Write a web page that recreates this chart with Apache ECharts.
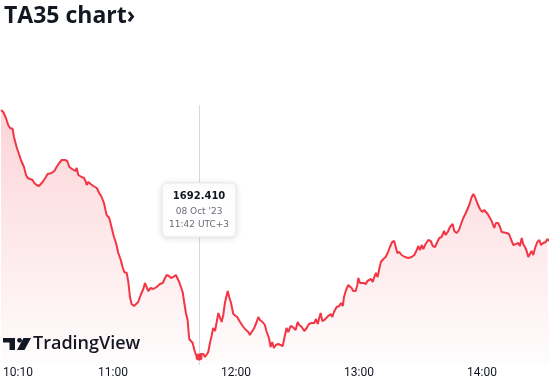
<!DOCTYPE html>
<html>
<head>
<meta charset="utf-8">
<script src="https://cdn.jsdelivr.net/npm/echarts@6/dist/echarts.min.js"></script>
<style>
html,body{margin:0;padding:0;background:#fff;}
#main{width:549px;height:382px;}
</style>
</head>
<body>
<div id="main"></div>
<script>
// ---- data (time in minutes since midnight, price) ----
const times = [
605.4,606.5,607.8,608.9,609.8,610.6,611.1,611.7,613.0,614.3,615.1,616.0,616.6,617.6,618.4,619.5,620.3,620.8,621.6,622.8,
623.9,624.7,625.7,626.5,627.3,628.1,628.9,630.1,631.4,632.5,633.8,635.0,636.6,637.7,638.7,639.4,640.1,641.0,641.6,642.3,
643.1,644.7,645.9,646.8,647.2,648.0,649.1,650.4,652.1,653.3,654.5,655.6,656.9,658.2,659.4,660.5,661.5,662.6,663.8,664.7,
665.5,666.7,667.5,668.3,669.1,670.3,671.2,672.3,673.5,674.8,675.6,676.4,677.2,678.4,679.7,681.3,682.9,684.3,685.4,686.2,
687.3,688.3,689.4,690.7,691.6,692.3,693.2,694.0,694.8,695.6,696.4,697.2,698.0,698.9,699.7,700.5,702.0,702.8,703.3,704.1,
704.9,705.7,706.5,707.3,708.1,708.9,709.8,710.6,711.4,712.2,713.0,713.8,714.6,715.5,716.0,716.7,717.6,718.7,719.5,720.6,
722.0,723.3,724.4,725.2,726.0,726.8,727.7,728.9,730.1,730.9,731.7,733.0,734.1,735.0,736.1,736.9,737.7,738.5,739.5,740.6,
741.5,742.8,743.6,744.7,745.5,746.7,747.7,748.3,749.1,750.1,750.9,752.1,753.3,754.5,755.6,756.9,758.2,759.0,759.9,760.6,
761.3,762.1,763.1,763.9,765.0,766.2,767.0,767.8,769.1,770.4,771.2,772.1,772.7,773.7,774.8,775.6,776.4,777.2,778.4,779.2,
779.7,780.5,781.3,782.4,783.4,784.1,784.9,785.9,786.7,787.5,788.3,789.1,789.9,790.7,791.9,793.0,794.0,795.1,796.2,797.2,
797.9,798.7,799.7,800.8,802.4,804.1,805.7,807.0,808.2,808.9,809.8,810.6,811.4,812.5,813.8,815.0,816.0,817.1,818.2,819.2,
820.3,821.5,822.3,823.3,824.4,825.7,826.5,827.7,828.8,829.8,830.9,832.1,833.0,833.8,835.0,835.8,836.6,837.7,839.0,840.1,
841.1,842.0,842.8,843.6,844.7,846.0,846.8,847.9,848.8,849.6,850.4,852.0,853.2,854.1,855.3,856.6,857.7,858.5,859.4,860.1,
861.0,861.8,862.6,863.4,864.2,865.0,865.9,867.0,868.0,868.8,869.9,871.1,871.9,872.7
];
const prices = [
1741.81,1741.41,1740.21,1738.81,1738.21,1738.41,1738.01,1736.41,1734.41,1732.81,1731.81,1731.41,1730.41,1728.81,1728.21,1728.01,1727.61,1727.81,1727.21,1726.81,
1726.61,1727.01,1727.41,1727.81,1728.41,1729.01,1728.81,1729.21,1729.61,1730.41,1731.21,1731.81,1731.81,1731.61,1730.41,1730.81,1730.01,1730.41,1729.61,1730.21,
1728.81,1728.41,1728.21,1727.41,1726.81,1727.41,1727.01,1726.61,1726.21,1725.21,1724.41,1723.21,1720.81,1720.21,1718.21,1716.41,1715.21,1713.21,1711.81,1710.41,
1709.41,1709.21,1707.41,1704.41,1703.01,1702.61,1702.41,1703.41,1704.81,1706.01,1707.21,1707.21,1705.61,1706.21,1706.01,1706.41,1707.01,1707.21,1708.21,1708.81,
1708.61,1708.21,1708.41,1708.81,1709.21,1707.41,1707.21,1705.41,1703.21,1701.21,1699.81,1696.01,1696.21,1695.21,1693.81,1692.81,1692.41,1693.01,1693.41,1693.01,
1692.41,1692.21,1693.41,1695.21,1696.61,1698.21,1697.61,1699.41,1701.21,1701.41,1699.41,1700.81,1703.21,1704.81,1705.61,1704.41,1703.21,1701.01,1700.81,1700.41,
1699.41,1698.61,1698.01,1698.41,1697.41,1696.81,1697.21,1698.21,1699.41,1700.41,1699.81,1699.41,1698.81,1697.41,1696.21,1694.41,1695.41,1694.21,1694.81,1695.01,
1695.01,1694.61,1696.21,1698.21,1697.41,1698.61,1698.41,1698.81,1697.81,1699.41,1698.81,1698.41,1697.61,1698.21,1699.01,1699.21,1699.21,1700.01,1699.01,1700.21,
1701.21,1699.61,1699.81,1699.81,1700.61,1701.01,1700.41,1701.41,1702.41,1702.61,1703.21,1702.61,1704.41,1705.81,1706.81,1707.21,1706.21,1705.61,1705.61,1706.81,
1708.21,1707.21,1707.01,1707.21,1707.01,1707.61,1707.21,1708.01,1707.41,1708.41,1709.21,1708.41,1710.01,1711.41,1712.01,1712.41,1713.21,1714.41,1715.41,1715.61,
1715.21,1713.21,1713.41,1712.81,1712.41,1712.21,1712.41,1712.81,1713.81,1714.61,1713.81,1714.81,1714.01,1715.01,1715.81,1715.61,1714.61,1714.41,1715.41,1716.21,
1716.41,1717.61,1716.81,1717.41,1718.41,1719.01,1717.61,1717.21,1717.81,1719.01,1720.21,1721.21,1721.21,1722.81,1724.41,1725.01,1724.41,1723.21,1722.01,1721.41,
1721.81,1722.21,1721.01,1720.61,1719.61,1718.21,1719.21,1719.21,1718.41,1717.41,1717.21,1717.21,1717.01,1716.01,1714.81,1715.01,1715.21,1714.61,1716.21,1715.01,
1714.41,1713.61,1712.41,1712.61,1713.61,1712.81,1714.21,1715.41,1715.81,1714.81,1715.21,1715.41,1716.01,1715.61
];
const tickTimes = [610, 660, 720, 780, 840];
const tipTime = 702;          // 11:42
const tipPrice = 1692.41;
const tipDate = "08 Oct '23";
const tipZone = "UTC+3";
const titleText = "TA35 chart\u203A";
const watermarkText = "TradingView";

// ---- axis extents ----
const X_MIN = 604.9, X_MAX = 872.7;
const Y_MIN = 1690.81, Y_MAX = 1742.81;

function hhmm(m) {
  const h = Math.floor(m / 60), mm = Math.round(m - h * 60);
  return String(h).padStart(2, '0') + ':' + String(mm).padStart(2, '0');
}

const chart = echarts.init(document.getElementById('main'), null, {renderer: 'canvas'});
const RED = '#F23645';
const DARK = '#131722';

const option = {
  animation: false,
  backgroundColor: '#fff',
  title: {
    text: titleText, left: -1, top: 0,
    textStyle: {fontFamily: 'Open Sans', fontSize: 23, fontWeight: 'bold', color: DARK}
  },
  grid: {left: 0, right: 0, top: 105, bottom: 17},
  xAxis: {
    type: 'value', min: X_MIN, max: X_MAX,
    axisLine: {show: false}, axisTick: {show: false}, splitLine: {show: false},
    axisLabel: {
      customValues: tickTimes,
      margin: 2,
      color: DARK, fontSize: 12, fontFamily: 'Roboto',
      formatter: function (v) {
        return v === tickTimes[0] ? '{f|' + hhmm(v) + '}' : hhmm(v);
      },
      rich: {f: {fontSize: 12, fontFamily: 'Roboto', color: DARK, padding: [0, 0, 0, 15]}}
    }
  },
  yAxis: {type: 'value', min: Y_MIN, max: Y_MAX, show: false},
  series: [{
    type: 'line',
    data: times.map((t, i) => [t, prices[i]]),
    showSymbol: false,
    lineStyle: {color: RED, width: 2},
    itemStyle: {color: RED},
    areaStyle: {
      color: new echarts.graphic.LinearGradient(0, 0, 0, 1, [
        {offset: 0, color: 'rgba(242,54,69,0.3)'},
        {offset: 1, color: 'rgba(242,54,69,0.02)'}
      ])
    },
    markLine: {
      silent: true, symbol: ['none', 'none'],
      lineStyle: {color: '#D6D8DE', width: 1, type: 'solid'},
      label: {show: false},
      data: [{xAxis: tipTime}]
    },
    markPoint: {
      silent: true, symbol: 'circle', symbolSize: 7,
      itemStyle: {color: RED},
      label: {show: false},
      data: [{coord: [tipTime, tipPrice]}]
    }
  }]
};
chart.setOption(option);

const p = chart.convertToPixel({gridIndex: 0}, [tipTime, tipPrice]);
const cx = p[0];
chart.setOption({
  graphic: [
    // tooltip box
    {type: 'rect', z: 100, shape: {x: cx - 37, y: 183, width: 74, height: 54, r: 5},
     style: {fill: '#fff', stroke: '#E6E8EE', lineWidth: 1, shadowBlur: 6, shadowColor: 'rgba(0,0,0,0.12)', shadowOffsetY: 1}},
    {type: 'text', z: 101, x: cx, y: 196,
     style: {text: tipPrice.toFixed(3), font: 'bold 10px "DejaVu Sans"', fill: DARK, align: 'center', verticalAlign: 'middle'}},
    {type: 'text', z: 101, x: cx, y: 212,
     style: {text: tipDate, font: '9px "DejaVu Sans"', fill: '#6A6D78', align: 'center', verticalAlign: 'middle'}},
    {type: 'text', z: 101, x: cx, y: 225,
     style: {text: hhmm(tipTime) + ' ' + tipZone, font: '9px "DejaVu Sans"', fill: '#6A6D78', align: 'center', verticalAlign: 'middle'}},
    // watermark logo
    {type: 'rect', z: 5, shape: {x: 3, y: 338, width: 12, height: 4.5}, style: {fill: DARK}},
    {type: 'rect', z: 5, shape: {x: 9.5, y: 338, width: 5.5, height: 12}, style: {fill: DARK}},
    {type: 'circle', z: 5, shape: {cx: 19.5, cy: 340.3, r: 2.4}, style: {fill: DARK}},
    {type: 'polygon', z: 5, shape: {points: [[23.5, 338], [31, 338], [24.5, 350], [17, 350]]}, style: {fill: DARK}},
    {type: 'text', z: 5, x: 33, y: 344,
     style: {text: watermarkText, font: '600 18px "Open Sans"', fill: DARK, align: 'left', verticalAlign: 'middle'}}
  ]
});
</script>
</body>
</html>
